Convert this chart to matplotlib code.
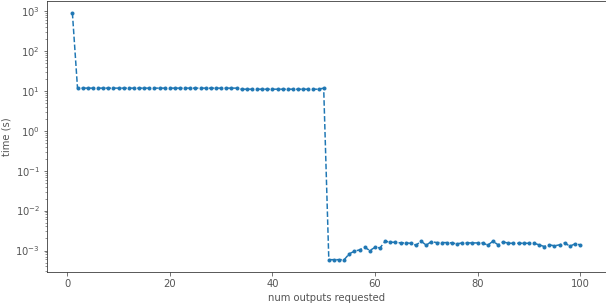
import matplotlib
matplotlib.use("Agg")
import matplotlib.pyplot as plt
import numpy as np

num_outputs = list(range(1, 101))
times = (
    [900.0]
    + [11.7] * 32           # 2..33
    + [11.0] * 16           # 34..49
    + [11.7]                # 50
    + [5.9e-4, 5.9e-4, 5.9e-4, 5.9e-4]   # 51..54
    + [8.3e-4, 9.6e-4, 1.04e-3, 1.2e-3, 1.0e-3, 1.2e-3, 1.17e-3]  # 55..61
    + [1.71e-3, 1.61e-3, 1.61e-3, 1.55e-3, 1.55e-3, 1.52e-3, 1.36e-3, 1.71e-3, 1.36e-3, 1.68e-3]  # 62..71
    + [1.58e-3, 1.58e-3, 1.58e-3, 1.55e-3, 1.47e-3, 1.55e-3, 1.55e-3, 1.55e-3, 1.55e-3, 1.55e-3]  # 72..81
    + [1.36e-3, 1.71e-3, 1.39e-3, 1.65e-3, 1.52e-3, 1.52e-3, 1.52e-3, 1.52e-3, 1.52e-3, 1.52e-3]  # 82..91
    + [1.39e-3, 1.26e-3, 1.39e-3, 1.31e-3, 1.39e-3, 1.55e-3, 1.28e-3, 1.47e-3, 1.39e-3]  # 92..100
)

DPI = 72
fig = plt.figure(figsize=(606 / DPI, 304 / DPI), dpi=DPI)
ax = fig.add_axes([47 / 606, 1 - 272 / 304, (605.5 - 47) / 606, (272 - 0.5) / 304])

ax.plot(num_outputs, times, linestyle="--", marker=".", color="#1f77b4")
ax.set_yscale("log")

txt = "#555555"
ax.set_xlabel("num outputs requested", color=txt, fontsize=10)
ax.set_ylabel("time (s)", color=txt, fontsize=10)
ax.tick_params(axis="both", which="both", colors=txt, labelsize=10)
for s in ax.spines.values():
    s.set_color("#333333")

fig.savefig("out.png", dpi=DPI)
